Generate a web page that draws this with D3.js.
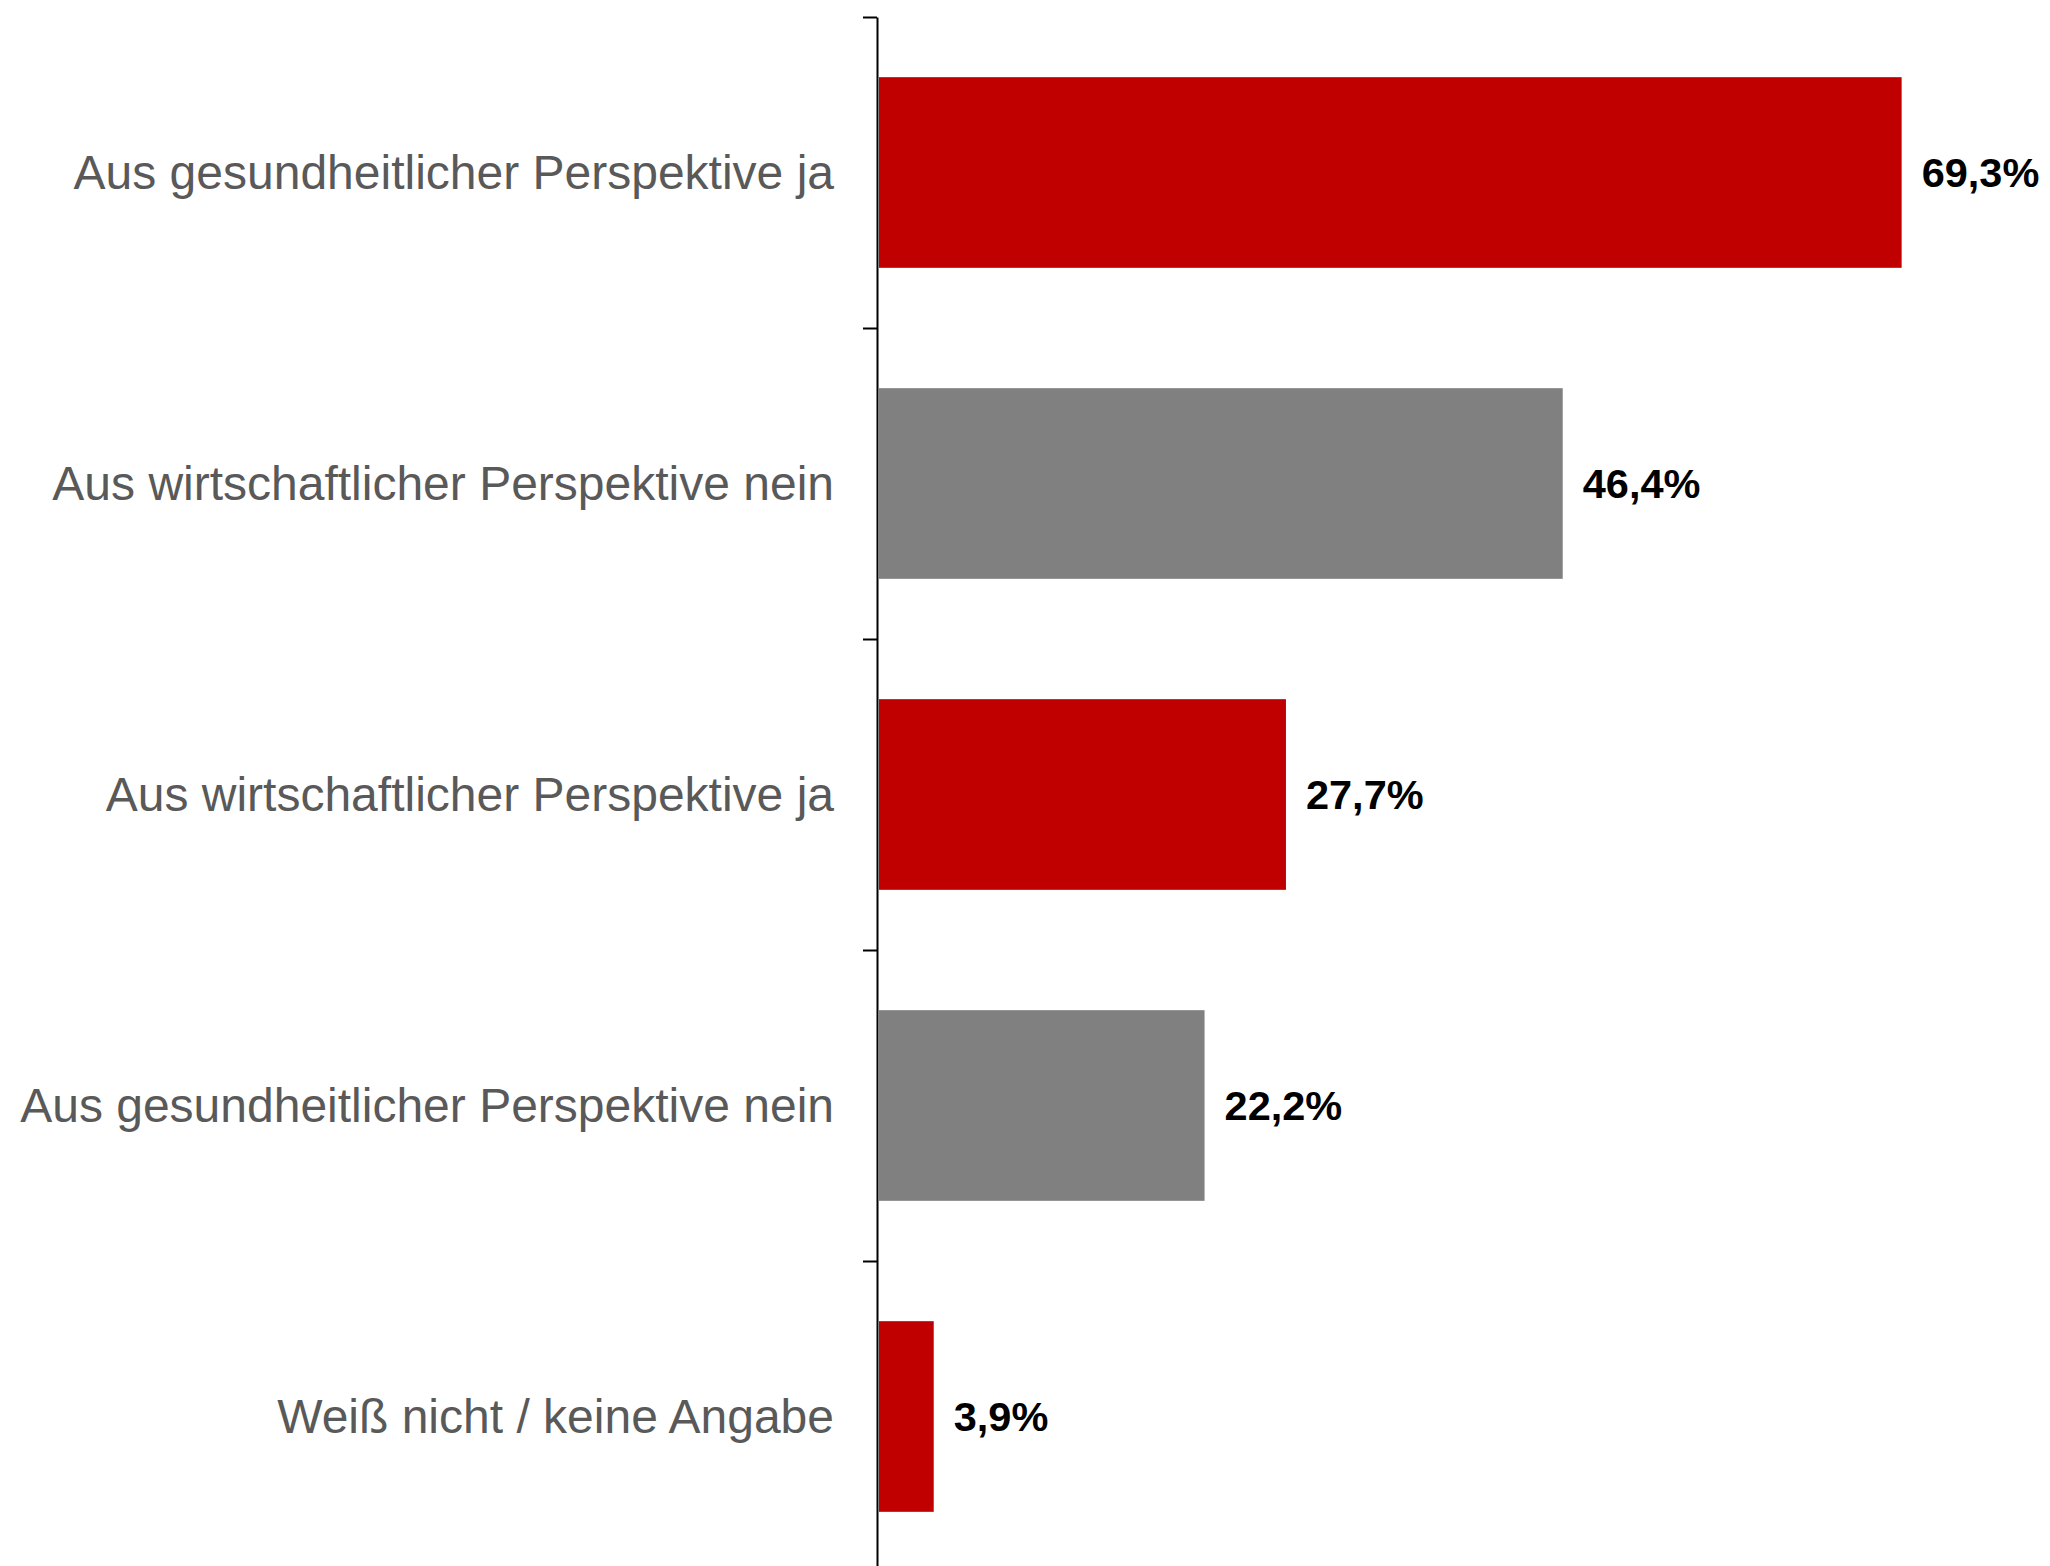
<!DOCTYPE html>
<html><head><meta charset="utf-8">
<script src="https://cdn.jsdelivr.net/npm/d3@7"></script>
<style>html,body{margin:0;padding:0;background:#fff;}svg{display:block;}</style>
</head><body>
<svg id="chart" width="2050" height="1566"></svg>
<script>
const categories = [
  "Aus gesundheitlicher Perspektive ja",
  "Aus wirtschaftlicher Perspektive nein",
  "Aus wirtschaftlicher Perspektive ja",
  "Aus gesundheitlicher Perspektive nein",
  "Weiß nicht / keine Angabe"
];
const values = [69.3, 46.4, 27.7, 22.2, 3.9];
const valueLabels = ["69,3%", "46,4%", "27,7%", "22,2%", "3,9%"];
const barColors = ["#C00000", "#808080", "#C00000", "#808080", "#C00000"];

const svg = d3.select("#chart");
const axisX = 877, origin = 876, yTop = 17, step = 311;
const y = d3.scaleBand().domain(categories)
  .range([yTop, yTop + step * categories.length])
  .paddingInner(0.387).paddingOuter(0.1935);
const x = d3.scaleLinear().domain([0, 80]).range([origin, origin + 80 * 14.8]);

// bars
svg.append("g").selectAll("rect").data(categories).join("rect")
  .attr("x", axisX + 2)
  .attr("y", d => y(d))
  .attr("width", (d, i) => x(values[i]) - axisX - 2)
  .attr("height", y.bandwidth())
  .attr("fill", (d, i) => barColors[i]);

// axis with ticks at band boundaries
const idx = d3.scaleLinear().domain([0, categories.length]).range(y.range());
const axis = svg.append("g").attr("transform", `translate(${axisX},0)`)
  .call(d3.axisLeft(idx).tickValues(d3.range(categories.length + 1)).tickFormat("").tickSize(14).tickSizeOuter(0));
axis.selectAll("path,line").attr("stroke", "#000").attr("stroke-width", 2);

// category labels
svg.append("g").selectAll("text").data(categories).join("text")
  .attr("x", 834)
  .attr("y", d => y(d) + y.bandwidth() / 2)
  .attr("dy", "0.35em")
  .attr("text-anchor", "end")
  .attr("font-family", "'Liberation Sans', Arial, sans-serif")
  .attr("font-size", 48)
  .attr("fill", "#595959")
  .text(d => d);

// value labels
svg.append("g").selectAll("text").data(categories).join("text")
  .attr("x", (d, i) => x(values[i]) + 20)
  .attr("y", d => y(d) + y.bandwidth() / 2)
  .attr("dy", "0.35em")
  .attr("font-family", "'Liberation Sans', Arial, sans-serif")
  .attr("font-weight", "bold")
  .attr("font-size", 41.5)
  .attr("fill", "#000")
  .text((d, i) => valueLabels[i]);
</script>
</body></html>
